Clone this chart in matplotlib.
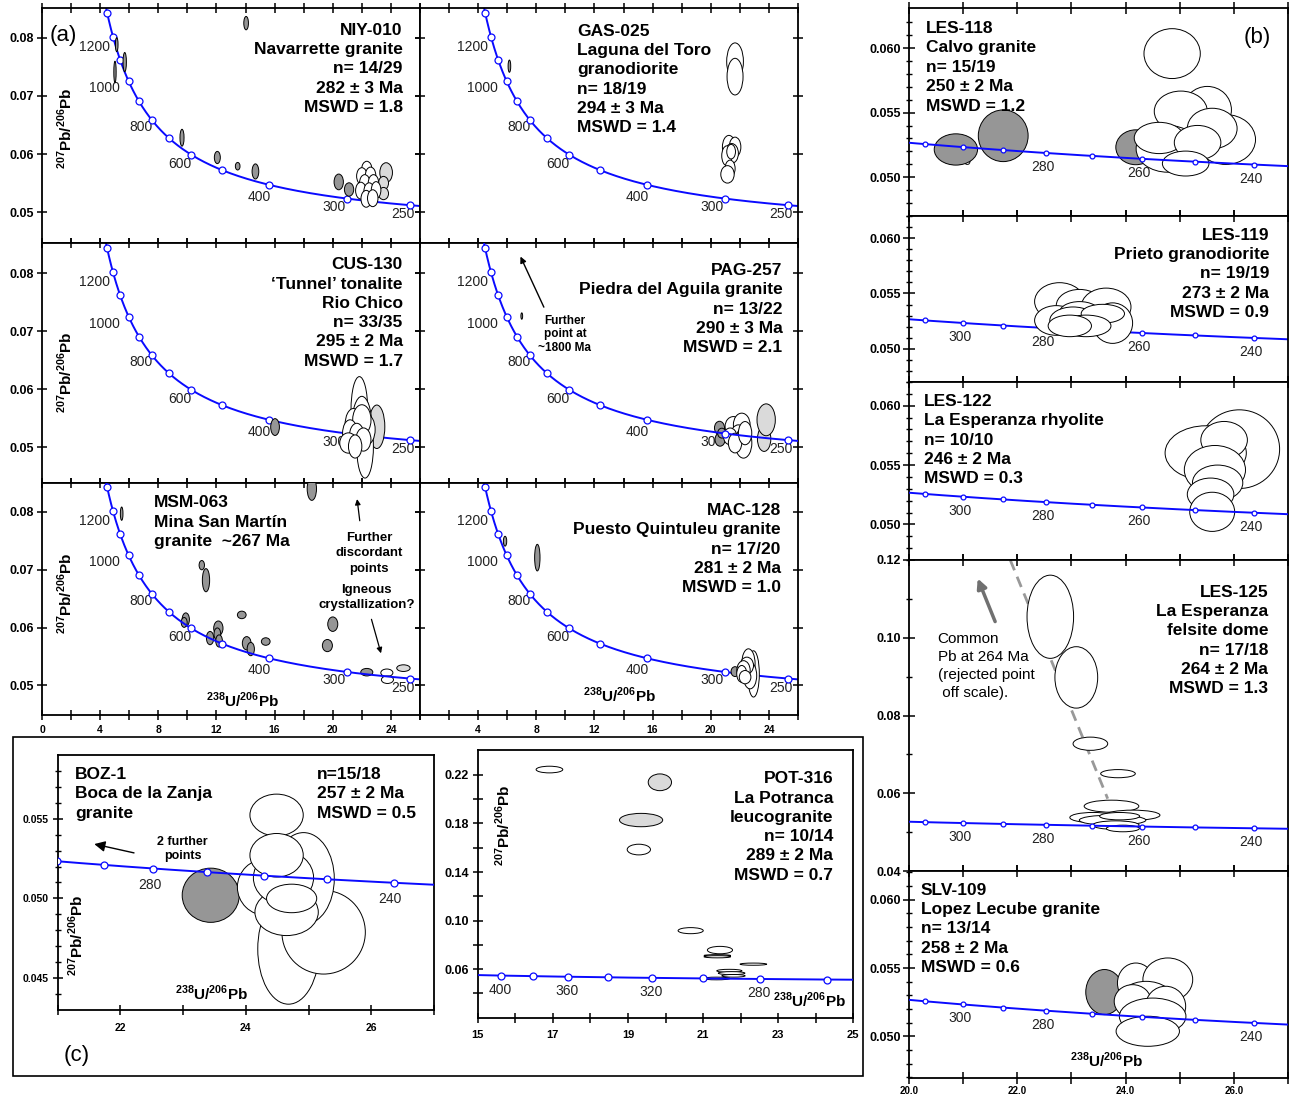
import numpy as np
import matplotlib
matplotlib.use('Agg')
import matplotlib.pyplot as plt
from matplotlib.patches import Ellipse, Rectangle

plt.rcParams['font.family'] = ['Liberation Sans', 'DejaVu Sans']
plt.rcParams['mathtext.fontset'] = 'custom'
plt.rcParams['mathtext.rm'] = 'Liberation Sans'
plt.rcParams['mathtext.bf'] = 'Liberation Sans:bold'

W, H = 1292, 1099
# decay constants (1/yr) and 238U/235U
L238, L235, U85 = 1.55125e-10, 9.8485e-10, 137.88

# concordia age marks (Ma)
a_marks = [1300, 1200, 1100, 1000, 900, 800, 700, 600, 500, 400, 300, 250]
a_labels = [1200, 1000, 800, 600, 400, 300, 250]
b_marks = [310, 300, 290, 280, 270, 260, 250, 240]
b_labels = [300, 280, 260, 240]
pot_marks = [400, 380, 360, 340, 320, 300, 280, 260]
pot_labels = [400, 360, 320, 280]

# ellipses: 238U/206Pb, 207Pb/206Pb, width, height, fill (g=grey, l=light, w=white)
niy = [(14.04, 0.0825, 0.32, 0.0023, 'g'), (5.14, 0.0788, 0.18, 0.0024, 'g'),
       (5.69, 0.0758, 0.23, 0.0033, 'g'), (5.02, 0.0741, 0.16, 0.0037, 'g'),
       (9.63, 0.0628, 0.28, 0.0029, 'g'), (12.06, 0.0594, 0.41, 0.0021, 'g'),
       (13.46, 0.0579, 0.32, 0.0013, 'g'), (14.68, 0.0570, 0.46, 0.0026, 'g'),
       (20.41, 0.0552, 0.64, 0.0027, 'g'), (21.12, 0.0539, 0.64, 0.0023, 'g'),
       (23.67, 0.0568, 0.87, 0.0034, 'l'), (23.49, 0.0550, 0.69, 0.0023, 'l'),
       (23.49, 0.0532, 0.69, 0.0021, 'l'),
       (22.34, 0.0573, 0.72, 0.0029, 'w'), (22.0, 0.0562, 0.72, 0.0029, 'w'),
       (22.6, 0.0563, 0.72, 0.0029, 'w'), (22.2, 0.0550, 0.72, 0.0029, 'w'),
       (22.8, 0.0550, 0.72, 0.0029, 'w'), (21.93, 0.0537, 0.72, 0.0029, 'w'),
       (22.5, 0.0536, 0.72, 0.0029, 'w'), (22.98, 0.0538, 0.66, 0.0029, 'w'),
       (22.3, 0.0523, 0.72, 0.0029, 'w'), (22.75, 0.0524, 0.72, 0.0029, 'w')]
gas = [(6.15, 0.0751, 0.18, 0.0021, 'g'),
       (21.67, 0.0759, 1.15, 0.0064, 'w'), (21.67, 0.0733, 1.1, 0.0063, 'w'),
       (21.25, 0.0612, 0.9, 0.0040, 'w'), (21.67, 0.0612, 0.8, 0.0034, 'w'),
       (21.44, 0.0601, 0.92, 0.0034, 'w'), (21.1, 0.0597, 0.69, 0.0034, 'w'),
       (21.4, 0.0604, 0.6, 0.0025, 'w'), (21.33, 0.0575, 0.69, 0.0029, 'w'),
       (21.15, 0.0565, 0.92, 0.0030, 'w')]
cus = [(16.03, 0.05345, 0.6, 0.0029, 'g'), (23.03, 0.0535, 1.1, 0.0075, 'l'),
       (21.83, 0.0564, 1.15, 0.0115, 'w'), (22.0, 0.0536, 1.38, 0.0103, 'w'),
       (22.22, 0.0501, 1.15, 0.0109, 'w'), (21.42, 0.0538, 1.15, 0.0057, 'w'),
       (22.34, 0.0530, 1.15, 0.0052, 'w'), (22.0, 0.0547, 1.26, 0.0052, 'w'),
       (21.19, 0.0524, 1.03, 0.0046, 'w'), (21.65, 0.0518, 1.03, 0.0046, 'w'),
       (22.11, 0.0513, 1.03, 0.0040, 'w'), (21.08, 0.0507, 1.2, 0.0035, 'w'),
       (21.54, 0.0501, 0.92, 0.0040, 'w')]
pag = [(7.0, 0.0726, 0.12, 0.0011, 'g'), (20.6, 0.0533, 0.69, 0.0023, 'g'),
       (20.64, 0.0513, 0.69, 0.0023, 'g'), (20.76, 0.0524, 0.57, 0.0017, 'g'),
       (23.67, 0.0514, 0.92, 0.0043, 'l'), (23.81, 0.0547, 1.26, 0.0055, 'l'),
       (21.56, 0.05356, 1.15, 0.0034, 'w'), (22.13, 0.05385, 1.15, 0.0040, 'w'),
       (21.9, 0.05213, 1.03, 0.0034, 'w'), (22.25, 0.05069, 1.15, 0.0052, 'w'),
       (21.33, 0.05184, 0.92, 0.0029, 'w'), (21.67, 0.05069, 0.92, 0.0034, 'w'),
       (22.36, 0.0524, 0.92, 0.0040, 'w')]
msm = [(5.48, 0.0797, 0.18, 0.0023, 'g'), (18.56, 0.0840, 0.64, 0.0040, 'g'),
       (10.99, 0.0708, 0.37, 0.0016, 'g'), (11.28, 0.0682, 0.50, 0.0040, 'g'),
       (9.89, 0.0614, 0.50, 0.0023, 'g'), (9.78, 0.0609, 0.41, 0.0017, 'g'),
       (12.13, 0.0599, 0.64, 0.0025, 'g'), (12.06, 0.0589, 0.46, 0.0021, 'g'),
       (11.56, 0.0582, 0.50, 0.0023, 'g'), (12.18, 0.0577, 0.46, 0.0021, 'g'),
       (13.74, 0.0622, 0.60, 0.0013, 'g'), (14.08, 0.0573, 0.60, 0.0023, 'g'),
       (14.36, 0.0563, 0.50, 0.0023, 'g'), (15.39, 0.0576, 0.60, 0.0013, 'g'),
       (20.0, 0.0606, 0.69, 0.0025, 'g'), (19.63, 0.0569, 0.69, 0.0021, 'g'),
       (22.34, 0.0523, 0.83, 0.0013, 'g'), (23.72, 0.0522, 0.83, 0.0013, 'w'),
       (23.76, 0.0510, 0.83, 0.0013, 'w'), (24.86, 0.0530, 0.92, 0.00115, 'l')]
mac = [(5.85, 0.07494, 0.23, 0.0017, 'g'), (8.07, 0.0721, 0.37, 0.0046, 'g'),
       (21.67, 0.0524, 0.55, 0.0017, 'g'), (22.94, 0.0520, 0.8, 0.0080, 'w'),
       (22.59, 0.05374, 0.92, 0.0052, 'w'), (22.7, 0.05172, 0.92, 0.0046, 'w'),
       (22.48, 0.05345, 0.92, 0.0029, 'w'), (22.25, 0.05259, 0.92, 0.0034, 'w'),
       (22.13, 0.05201, 0.69, 0.0029, 'w'), (22.36, 0.05144, 0.8, 0.0023, 'w')]
les118 = [(20.866, 0.05215, 0.80, 0.00242, 'g'), (21.74, 0.05321, 0.92, 0.0040, 'g'),
          (24.19, 0.05232, 0.74, 0.0027, 'g'), (24.86, 0.05957, 1.04, 0.00386, 'w'),
          (25.51, 0.05522, 0.89, 0.00362, 'w'), (25.02, 0.0551, 0.98, 0.00314, 'w'),
          (25.85, 0.05292, 1.1, 0.00386, 'w'), (25.6, 0.05377, 0.92, 0.00314, 'w'),
          (24.78, 0.0522, 1.17, 0.00362, 'w'), (24.62, 0.05304, 0.92, 0.00242, 'w'),
          (25.33, 0.05268, 0.86, 0.00266, 'w'), (25.11, 0.05106, 0.86, 0.00193, 'w')]
les119 = [(22.78, 0.05427, 0.92, 0.00341, 'w'), (23.15, 0.0539, 0.86, 0.00293, 'w'),
          (23.64, 0.05378, 0.92, 0.00341, 'w'), (23.76, 0.05232, 0.74, 0.00366, 'w'),
          (22.72, 0.05256, 0.8, 0.00268, 'w'), (23.15, 0.05329, 0.74, 0.00195, 'w'),
          (23.03, 0.05256, 0.86, 0.00244, 'w'), (23.58, 0.05317, 0.8, 0.0017, 'w'),
          (23.27, 0.05207, 0.92, 0.00195, 'w'), (22.97, 0.05207, 0.8, 0.00195, 'w')]
les122 = [(26.1, 0.05634, 1.49, 0.00663, 'w'), (25.48, 0.05602, 1.5, 0.00458, 'w'),
          (25.82, 0.05711, 0.86, 0.00313, 'w'), (25.65, 0.0546, 1.13, 0.0041, 'w'),
          (25.7, 0.0535, 0.93, 0.0030, 'w'), (25.57, 0.05253, 0.86, 0.00275, 'w'),
          (25.6, 0.05106, 0.83, 0.0033, 'w')]
les125 = [(22.61, 0.1054, 0.86, 0.0214, 'w'), (23.09, 0.0898, 0.79, 0.0158, 'w'),
          (23.35, 0.07274, 0.64, 0.0034, 'w'), (23.86, 0.06504, 0.64, 0.0021, 'w'),
          (23.74, 0.05667, 1.01, 0.0031, 'w'), (24.13, 0.05436, 1.01, 0.0026, 'w'),
          (23.4, 0.05376, 0.86, 0.0026, 'w'), (23.76, 0.05308, 1.23, 0.0026, 'w'),
          (23.89, 0.0541, 0.74, 0.0019, 'w'), (23.82, 0.0518, 0.86, 0.0022, 'w'),
          (23.95, 0.05094, 0.61, 0.0017, 'w')]
slv = [(23.61, 0.05324, 0.69, 0.0033, 'g'), (24.19, 0.0539, 0.68, 0.00293, 'w'),
       (24.78, 0.05415, 0.92, 0.00317, 'w'), (24.38, 0.05256, 1.04, 0.00293, 'w'),
       (24.13, 0.05256, 0.68, 0.00244, 'w'), (24.74, 0.0522, 0.74, 0.00293, 'w'),
       (24.5, 0.05146, 1.23, 0.00268, 'w'), (24.41, 0.05037, 1.17, 0.0022, 'w')]
boz = [(23.44, 0.0502, 0.91, 0.0034, 'g'), (24.68, 0.04683, 0.98, 0.00693, 'w'),
       (25.24, 0.04788, 1.33, 0.00525, 'w'), (24.92, 0.05124, 0.98, 0.00578, 'w'),
       (24.33, 0.05071, 0.93, 0.00357, 'w'), (24.49, 0.05523, 0.85, 0.00263, 'w'),
       (24.65, 0.04914, 1.01, 0.00294, 'w'), (24.6, 0.0513, 0.96, 0.00336, 'w'),
       (24.49, 0.05271, 0.85, 0.00273, 'w'), (24.73, 0.0500, 0.8, 0.00179, 'w')]
pot = [(16.91, 0.2244, 0.71, 0.0055, 'w'), (19.85, 0.2139, 0.62, 0.0138, 'l'),
       (19.35, 0.1828, 1.15, 0.011, 'l'), (19.29, 0.1585, 0.62, 0.0088, 'w'),
       (20.67, 0.0917, 0.67, 0.005, 'w'), (21.45, 0.0757, 0.67, 0.0061, 'w'),
       (21.38, 0.0712, 0.71, 0.0015, 'w'), (21.38, 0.0702, 0.71, 0.0018, 'w'),
       (22.34, 0.0641, 0.71, 0.0018, 'w'), (21.7, 0.0586, 0.67, 0.0025, 'w'),
       (21.76, 0.0567, 0.71, 0.0025, 'w'), (21.81, 0.0545, 0.62, 0.0022, 'w'),
       (21.36, 0.0523, 0.71, 0.0022, 'w')]

niy_txt = ['NIY-010', 'Navarrette granite', 'n= 14/29', '282 ± 3 Ma', 'MSWD = 1.8']
gas_txt = ['GAS-025', 'Laguna del Toro', 'granodiorite', 'n= 18/19', '294 ± 3 Ma', 'MSWD = 1.4']
cus_txt = ['CUS-130', '\u2018Tunnel\u2019 tonalite', 'Rio Chico', 'n= 33/35', '295 ± 2 Ma', 'MSWD = 1.7']
pag_txt = ['PAG-257', 'Piedra del Aguila granite', 'n= 13/22', '290 ± 3 Ma', 'MSWD = 2.1']
msm_txt = ['MSM-063', 'Mina San Martín', 'granite  ~267 Ma']
mac_txt = ['MAC-128', 'Puesto Quintuleu granite', 'n= 17/20', '281 ± 2 Ma', 'MSWD = 1.0']
les118_txt = ['LES-118', 'Calvo granite', 'n= 15/19', '250 ± 2 Ma', 'MSWD = 1.2']
les119_txt = ['LES-119', 'Prieto granodiorite', 'n= 19/19', '273 ± 2 Ma', 'MSWD = 0.9']
les122_txt = ['LES-122', 'La Esperanza rhyolite', 'n= 10/10', '246 ± 2 Ma', 'MSWD = 0.3']
les125_txt = ['LES-125', 'La Esperanza', 'felsite dome', 'n= 17/18', '264 ± 2 Ma', 'MSWD = 1.3']
slv_txt = ['SLV-109', 'Lopez Lecube granite', 'n= 13/14', '258 ± 2 Ma', 'MSWD = 0.6']
boz_txt = ['BOZ-1', 'Boca de la Zanja', 'granite']
boz_txt2 = ['n=15/18', '257 ± 2 Ma', 'MSWD = 0.5']
pot_txt = ['POT-316', 'La Potranca', 'leucogranite', 'n= 10/14', '289 ± 2 Ma', 'MSWD = 0.7']

PB = r'$^{\mathbf{207}}$Pb/$^{\mathbf{206}}$Pb'
UPB = r'$^{\mathbf{238}}$U/$^{\mathbf{206}}$Pb'
FILL = {'g': '#969696', 'l': '#dadada', 'w': 'white'}
BLUE = '#0a0aff'

fig = plt.figure(figsize=(W / 100, H / 100), dpi=100)


def tw(age):
    t = np.asarray(age, dtype=float) * 1e6
    e8 = np.expm1(L238 * t)
    return 1 / e8, np.expm1(L235 * t) / e8 / U85


def box(x0, y0, x1, y1):
    ax = fig.add_axes([x0 / W, 1 - y1 / H, (x1 - x0) / W, (y1 - y0) / H])
    for s in ax.spines.values():
        s.set_linewidth(1.3)
    return ax


def txt(px, py, s, **kw):
    return fig.text(px / W, 1 - py / H, s, **kw)


def block(px, py, lines, ha='left', step=19.3, size=12.5, weight='bold'):
    for i, s in enumerate(lines):
        txt(px, py + i * step, s, ha=ha, va='baseline', fontsize=size, fontweight=weight)


def ellipses(ax, rows, z=3):
    for x, y, w, h, k in rows:
        ax.add_patch(Ellipse((x, y), w, h, fc=FILL[k], ec='black', lw=0.7, zorder=z))


def concordia(ax, t0, t1, marks, labels, ms, offs, ha, z=4):
    cx, cy = tw(np.linspace(t0, t1, 600))
    ax.plot(cx, cy, color=BLUE, lw=1.4, zorder=z)
    mx, my = tw(marks)
    ax.plot(mx, my, 'o', ms=ms, mfc='white', mec=BLUE, mew=0.9, zorder=z)
    for a in labels:
        lx, ly = tw(a)
        dx, dy = offs[a] if isinstance(offs, dict) else offs
        ax.annotate(str(a), (lx, ly), xytext=(dx, dy), textcoords='offset pixels',
                    ha=ha, va='center', fontsize=10, color='#222222', zorder=2)


def bold_ticks(ax):
    plt.setp(ax.get_xticklabels() + ax.get_yticklabels(), fontweight='bold')


# ---------------- (a) ----------------
a_off = {1200: (-3, -10), 1000: (-9, -7), 800: (1, -7), 600: (0, -9),
         400: (2, -12), 300: (-2, -8), 250: (5, -9)}
a_boxes = [(42, 8, 420, 243), (420, 8, 798, 243), (42, 243, 420, 483),
           (420, 243, 798, 483), (42, 483, 420, 715), (420, 483, 798, 715)]
a_ylims = [(0.0447, 0.0851), (0.0447, 0.0851), (0.0438, 0.0852),
           (0.0438, 0.0852), (0.0449, 0.0850), (0.0449, 0.0850)]
a_data = [niy, gas, cus, pag, msm, mac]
a_linez = [2.5, 2.5, 2.5, 5, 5, 2.5]
xt = list(range(0, 27, 2))
for i in range(6):
    ax = box(*a_boxes[i])
    ax.set_xlim(0, 26)
    ax.set_ylim(*a_ylims[i])
    first = 0 if i % 2 == 0 else 4
    ax.set_xticks(xt, [str(v) if v % 4 == 0 and first <= v < 26 else '' for v in xt])
    ax.set_yticks([0.05, 0.06, 0.07, 0.08], ['0.05', '0.06', '0.07', '0.08'])
    ax.tick_params(direction='inout', length=7, width=1.1, top=True, right=True,
                   labelbottom=i >= 4, labelleft=i % 2 == 0, labelsize=9, pad=2)
    ax.tick_params(axis='x', labelsize=7.5, pad=4)
    bold_ticks(ax)
    ellipses(ax, a_data[i], z=3)
    concordia(ax, 235, 1450, a_marks, a_labels, 5, a_off, 'right', z=a_linez[i])
    if i == 3:
        ax.annotate('', xy=(6.83, 0.0833), xytext=(8.6, 0.0737),
                    arrowprops=dict(arrowstyle='-|>', color='black', lw=1, mutation_scale=9))
    if i == 4:
        ax.annotate('', xy=(21.65, 0.0827), xytext=(21.88, 0.0780),
                    arrowprops=dict(arrowstyle='-|>', color='black', lw=0.9, mutation_scale=8))
        ax.annotate('', xy=(23.37, 0.0551), xytext=(22.61, 0.0619),
                    arrowprops=dict(arrowstyle='-|>', color='black', lw=0.9, mutation_scale=8))

block(402.7, 34.7, niy_txt, 'right')
block(577.3, 35.7, gas_txt, 'left')
block(402.7, 269.3, cus_txt, 'right')
block(782.3, 275, pag_txt, 'right')
block(154, 507.3, msm_txt, 'left')
block(780.7, 515, mac_txt, 'right')
block(565, 324, ['Further', 'point at', '~1800 Ma'], 'center', 13.5, 8.5)
block(369.3, 540.7, ['Further', 'discordant', 'points'], 'center', 15.5, 9.5)
block(366.7, 593.3, ['Igneous', 'crystallization?'], 'center', 15, 9.5)
for cy in (128, 372, 593):
    txt(65, cy, PB, rotation=90, ha='center', va='center', fontsize=11, fontweight='bold')
txt(243, 706.7, UPB, ha='center', va='baseline', fontsize=11, fontweight='bold')
txt(620, 701.7, UPB, ha='center', va='baseline', fontsize=11, fontweight='bold')
txt(63, 35, '(a)', ha='center', va='center', fontsize=16)

# ---------------- (b) ----------------
b_boxes = [(909, 8, 1288, 216), (909, 216, 1288, 382), (909, 382, 1288, 560),
           (909, 560, 1288, 871), (909, 871, 1288, 1078)]
b_ylims = [(0.0480, 0.0631), (0.04876, 0.0609), (0.04807, 0.06094),
           (0.04, 0.12), (0.04695, 0.0621)]
b_data = [les118, les119, les122, les125, slv]
b_linez = [5, 2.5, 5, 5, 5]
bx = list(range(20, 28))
for i in range(5):
    ax = box(*b_boxes[i])
    ax.set_xlim(20, 27)
    ax.set_ylim(*b_ylims[i])
    ax.set_xticks(bx, ['%.1f' % v if v % 2 == 0 and v < 27 else '' for v in bx])
    if i == 3:
        ax.set_yticks([0.04, 0.06, 0.08, 0.10, 0.12], ['0.04', '0.06', '0.08', '0.10', '0.12'])
        ax.set_yticks(np.arange(0.05, 0.12, 0.02), minor=True)
    else:
        ax.set_yticks([0.050, 0.055, 0.060], ['0.050', '0.055', '0.060'])
        ax.set_yticks(np.arange(0.047, 0.0625, 0.001), minor=True)
    ax.tick_params(direction='inout', length=8, width=1.1, top=True, right=False,
                   labelbottom=i == 4, labelsize=9, pad=2)
    ax.tick_params(axis='y', which='minor', direction='inout', length=4, width=1)
    ax.tick_params(axis='x', labelsize=7, pad=2)
    bold_ticks(ax)
    if i == 3:
        ax.plot([21.87, 23.67], [0.1200, 0.0586], color='#999999', lw=2, ls=(0, (4, 2.5)), zorder=2)
        ax.annotate('', xy=(21.25, 0.1159), xytext=(21.61, 0.1035),
                    arrowprops=dict(arrowstyle='-|>', color='#707070', lw=2.5, mutation_scale=14))
    ellipses(ax, b_data[i], z=3)
    concordia(ax, 225, 330, b_marks, b_labels, 3.5, (-3, -14), 'center', z=b_linez[i])

block(925.7, 32.7, les118_txt, 'left', 19.5)
block(1269.3, 240, les119_txt, 'right', 19.2)
block(924, 406, les122_txt, 'left', 19.3)
block(1268.3, 596.7, les125_txt, 'right', 19.3)
block(921, 894.7, slv_txt, 'left', 19.3)
block(937.7, 643.3, ['Common', 'Pb at 264 Ma', '(rejected point', ' off scale).'],
      'left', 17.8, 11, 'normal')
txt(1107, 1067, UPB, ha='center', va='baseline', fontsize=11, fontweight='bold')
txt(1257, 37, '(b)', ha='center', va='center', fontsize=16)

# ---------------- (c) ----------------
fig.add_artist(Rectangle((13 / W, 1 - 1076 / H), 850 / W, 339 / H, transform=fig.transFigure,
                         fill=False, ec='black', lw=1.2))

ax = box(57.7, 755, 434, 1010)
ax.set_xlim(21, 27)
ax.set_ylim(0.043, 0.059)
cx = list(range(21, 28))
ax.set_xticks(cx, [str(v) if v % 2 == 0 else '' for v in cx])
ax.set_yticks([0.045, 0.050, 0.055], ['0.045', '0.050', '0.055'])
ax.set_yticks(np.arange(0.044, 0.0585, 0.001), minor=True)
ax.tick_params(direction='inout', length=7, width=1.1, labelsize=7.5, pad=3)
ax.tick_params(axis='y', which='minor', direction='inout', length=4, width=1)
ax.tick_params(axis='x', pad=6)
bold_ticks(ax)
ellipses(ax, boz, z=3)
concordia(ax, 225, 330, b_marks, [280, 260, 240], 5, (-4, -16), 'center', z=5)
ax.annotate('', xy=(21.54, 0.05345), xytext=(22.26, 0.05282),
            arrowprops=dict(arrowstyle='-|>', color='black', lw=1, mutation_scale=16))

ax = box(477.7, 750, 853.3, 1017.7)
ax.set_xlim(15, 25)
ax.set_ylim(0.02, 0.2405)
ax.set_xticks(range(15, 26, 2), [str(v) for v in range(15, 26, 2)])
ax.set_xticks(range(16, 26, 2), minor=True)
ax.set_yticks([0.06, 0.10, 0.14, 0.18, 0.22], ['0.06', '0.10', '0.14', '0.18', '0.22'])
ax.set_yticks([0.04, 0.08, 0.12, 0.16, 0.20], minor=True)
ax.tick_params(which='both', direction='inout', length=7, width=1.1, labelsize=9, pad=3)
ax.tick_params(axis='x', labelsize=8, pad=5)
bold_ticks(ax)
ellipses(ax, pot, z=3)
concordia(ax, 230, 460, pot_marks, pot_labels, 5, (-1, -14), 'center', z=5)

block(75, 779, boz_txt, 'left')
block(316.7, 779, boz_txt2, 'left')
block(182.7, 845, ['2 further', 'points'], 'center', 14.3, 9)
block(833.3, 783.3, pot_txt, 'right')
txt(76.7, 935, PB, rotation=90, ha='center', va='center', fontsize=11, fontweight='bold')
txt(211.7, 1000, UPB, ha='center', va='baseline', fontsize=11, fontweight='bold')
txt(503, 825, PB, rotation=90, ha='center', va='center', fontsize=11, fontweight='bold')
txt(810, 1006.7, UPB, ha='center', va='baseline', fontsize=11, fontweight='bold')
txt(77, 1055, '(c)', ha='center', va='center', fontsize=16)

fig.savefig('out.png', dpi=100)
